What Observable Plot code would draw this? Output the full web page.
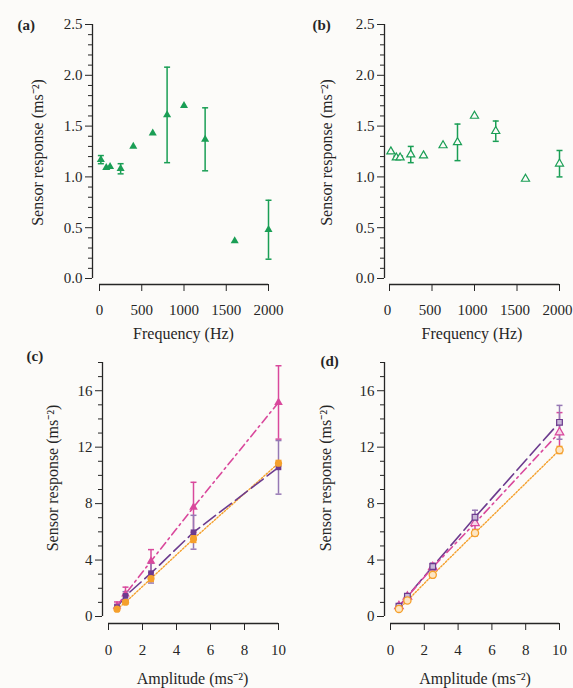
<!DOCTYPE html>
<html><head><meta charset="utf-8">
<script src="https://cdn.jsdelivr.net/npm/d3@7"></script>
<script src="https://cdn.jsdelivr.net/npm/@observablehq/plot@0.6"></script>
<style>
html,body{margin:0;padding:0;background:#fcfbf9;}
#fig{position:relative;width:573px;height:688px;overflow:hidden;background:#fcfbf9;font-family:"Liberation Serif",serif;}
#fig svg{position:absolute;}
</style></head><body><div id="fig"></div>
<script>
// ---- data ----
const frequencies = [16, 80, 125, 250, 400, 630, 800, 1000, 1250, 1600, 2000];
const responseA = [1.17, 1.09, 1.10, 1.08, 1.30, 1.43, 1.61, 1.70, 1.37, 0.37, 0.48];
const errorA    = [0.04, 0, 0, 0.05, 0, 0, 0.47, 0, 0.31, 0, 0.29];
const responseB = [1.25, 1.19, 1.19, 1.22, 1.21, 1.31, 1.34, 1.60, 1.45, 0.98, 1.13];
const errorB    = [0, 0.015, 0.015, 0.08, 0, 0, 0.18, 0, 0.10, 0, 0.13];

const amplitudes = [0.5, 1, 2.5, 5, 10];
const orangeC = [0.52, 1.01, 2.69, 5.50, 10.86];
const orangeErrC = [0.10, 0.12, 0.20, 0.25, 0.20];
const purpleC = [0.66, 1.46, 3.07, 5.97, 10.57];
const purpleErrC = [0.20, 0.30, 0.70, 1.20, 1.90];
const pinkC = [0.73, 1.60, 3.92, 7.74, 15.17];
const pinkErrC = [0.30, 0.48, 0.82, 1.77, 2.60];

const orangeD = [0.54, 1.13, 2.95, 5.92, 11.80];
const orangeErrD = [0.08, 0.10, 0.15, 0.20, 0.25];
const purpleD = [0.73, 1.44, 3.54, 7.03, 13.76];
const purpleErrD = [0.10, 0.15, 0.25, 0.50, 1.20];
const pinkD = [0.73, 1.40, 3.49, 6.62, 13.05];
const pinkErrD = [0.10, 0.15, 0.20, 0.45, 1.40];

const freqTicks = [0, 500, 1000, 1500, 2000];
const respTicks = [0, 0.5, 1.0, 1.5, 2.0, 2.5];
const ampTicks = [0, 2, 4, 6, 8, 10];
const sensTicks = [0, 4, 8, 12, 16];

const freqLabel = "Frequency (Hz)";
const ampLabel = "Amplitude (ms⁻²)";
const yLabelText = "Sensor response (ms⁻²)";

// ---- styles ----
const ink = "#262626";
const green = "#1a9e55";
const orange = "#f5a02c";
const purple = "#6c3b8e";
const purpleErr = "#9678b4";
const pink = "#d9489c";
const font = "Liberation Serif";

const capSymbol = {draw(ctx, size) { const w = Math.sqrt(size / Math.PI); ctx.moveTo(-w, 0); ctx.lineTo(w, 0); }};

function errorBars(rows, color, xKey) {
  const r = rows.filter(d => d.e > 0);
  return [
    Plot.ruleX(r, {x: xKey, y1: d => d.v - d.e, y2: d => d.v + d.e, stroke: color, strokeWidth: 1.5}),
    Plot.dot(r, {x: xKey, y: d => d.v - d.e, symbol: capSymbol, r: 3, fill: "none", stroke: color, strokeWidth: 1.5}),
    Plot.dot(r, {x: xKey, y: d => d.v + d.e, symbol: capSymbol, r: 3, fill: "none", stroke: color, strokeWidth: 1.5})
  ];
}

function panel(o) {
  const marks = [
    Plot.ruleX([o.xDomain[0]], {y1: o.yDomain[0], y2: o.yDomain[1], dx: -o.insetLeft, stroke: ink, strokeWidth: 1.3}),
    Plot.ruleY([o.yDomain[0]], {x1: o.xDomain[0], x2: o.xDomain[1], dy: o.insetBottom, stroke: ink, strokeWidth: 1.3}),
    Plot.axisY({ticks: o.yMinor, tickSize: 4, fill: "none", stroke: ink, label: null}),
    Plot.axisY({ticks: o.yTicks, tickSize: 7, tickPadding: 3, tickFormat: o.yFormat, stroke: ink, fill: ink, label: null, fontFamily: font}),
    Plot.axisX({ticks: o.xTicks, tickSize: 7, fill: "none", stroke: ink, label: null}),
    Plot.axisX({ticks: o.xTicks, tickSize: 7, tickPadding: o.xPad, tickFormat: d => String(d), stroke: "none", fill: ink, label: null, dx: o.xTickDx || 0, fontFamily: font}),
    ...o.marks,
    Plot.text([o.yLabel], {text: d => d, frameAnchor: "left", rotate: -90, textAnchor: "middle", dx: o.yLabelDx, dy: o.yLabelDy, fontSize: 16, fill: ink, fontFamily: font}),
    Plot.text([o.xLabel], {text: d => d, frameAnchor: "bottom", textAnchor: "middle", dx: o.xLabelDx, dy: o.xLabelDy, fontSize: 16, fill: ink, lineAnchor: "middle", fontFamily: font}),
    Plot.text([o.letter], {text: d => d, frameAnchor: "top-left", dx: o.letterDx, dy: o.letterDy, fontSize: 15, fontWeight: "bold", textAnchor: "start", lineAnchor: "middle", fill: ink, fontFamily: font})
  ];
  const svg = Plot.plot({
    width: o.width, height: o.height,
    marginLeft: o.marginLeft, marginRight: o.marginRight, marginTop: o.marginTop, marginBottom: o.marginBottom,
    insetLeft: o.insetLeft, insetRight: 0, insetTop: 0, insetBottom: o.insetBottom,
    x: {domain: o.xDomain},
    y: {domain: o.yDomain},
    style: {fontSize: "15px", color: ink, background: "transparent", overflow: "visible"},
    marks
  });
  svg.setAttribute("font-family", font);
  svg.style.fontFamily = font;
  svg.querySelectorAll("text, tspan").forEach(t => { t.setAttribute("font-family", font); t.style.fontFamily = font; });
  svg.style.left = o.left + "px";
  svg.style.top = o.top + "px";
  document.getElementById("fig").appendChild(svg);
}

const rowsA = frequencies.map((f, i) => ({f, v: responseA[i], e: errorA[i]}));
const rowsB = frequencies.map((f, i) => ({f, v: responseB[i], e: errorB[i]}));
const mk = (vals, errs) => amplitudes.map((a, i) => ({a, v: vals[i], e: errs[i]}));
const oC = mk(orangeC, orangeErrC), uC = mk(purpleC, purpleErrC), pC = mk(pinkC, pinkErrC);
const oD = mk(orangeD, orangeErrD), uD = mk(purpleD, purpleErrD), pD = mk(pinkD, pinkErrD);

const respMinor = d3.range(0, 26).map(i => i / 10).filter(v => Math.round(v * 10) % 5 !== 0);
const sensMinor = d3.range(1, 19).filter(v => v % 4 !== 0);

const common1 = {xDomain: [0, 2000], yDomain: [0, 2.5], xTicks: freqTicks, yTicks: respTicks, yMinor: respMinor,
  yFormat: d => d.toFixed(1), xPad: 13, height: 340, top: 0, marginTop: 24, insetBottom: 6, marginBottom: 56,
  xLabel: freqLabel, yLabel: yLabelText, xLabelDy: 49, yLabelDy: -2};

panel({...common1, left: 0, width: 286, marginLeft: 92, insetLeft: 7, marginRight: 18,
  yLabelDx: -55, xLabelDx: 3, letter: "(a)", letterDx: -75, letterDy: 1,
  marks: [
    ...errorBars(rowsA, green, "f"),
    Plot.dot(rowsA, {x: "f", y: "v", symbol: "triangle", r: 3, fill: green})
  ]});

panel({...common1, left: 286, width: 287, marginLeft: 98, insetLeft: 5, marginRight: 14,
  yLabelDx: -58, xLabelDx: 0, letter: "(b)", letterDx: -72, letterDy: 1, xTickDx: -2,
  marks: [
    ...errorBars(rowsB, green, "f"),
    Plot.dot(rowsB, {x: "f", y: "v", symbol: "triangle", r: 3, fill: "#fcfbf9", stroke: green, strokeWidth: 1.2})
  ]});

const common2 = {xDomain: [0, 10], yDomain: [0, 18], xTicks: ampTicks, yTicks: sensTicks, yMinor: sensMinor,
  yFormat: d => String(d), xPad: 14, height: 348, top: 340, marginTop: 22, insetBottom: 7, marginBottom: 65,
  xLabel: ampLabel, yLabel: yLabelText, xLabelDy: 55, yLabelDy: -15};

function lineSet(o, u, p, open) {
  return [
    Plot.line(o, {x: "a", y: "v", stroke: orange, strokeWidth: 1.4, strokeDasharray: "1.5,1.8"}),
    Plot.line(u, {x: "a", y: "v", stroke: purple, strokeWidth: 1.6, strokeDasharray: "15,5"}),
    Plot.line(p, {x: "a", y: "v", stroke: pink, strokeWidth: 1.6, strokeDasharray: "8,4,2,4"}),
    ...errorBars(p, pink, "a"),
    ...errorBars(u, purpleErr, "a"),
    ...errorBars(o, orange, "a"),
    open
      ? Plot.dot(p, {x: "a", y: "v", symbol: "triangle", r: 3.2, fill: "#f6d6e8", stroke: pink, strokeWidth: 1.2})
      : Plot.dot(p, {x: "a", y: "v", symbol: "triangle", r: 3.2, fill: pink}),
    open
      ? Plot.dot(u, {x: "a", y: "v", symbol: "square", r: 3.2, fill: "#c9b8d8", stroke: purple, strokeWidth: 1.2})
      : Plot.dot(u, {x: "a", y: "v", symbol: "square", r: 3.2, fill: purple}),
    open
      ? Plot.dot(o, {x: "a", y: "v", symbol: "circle", r: 3.6, fill: "#fde6c4", stroke: orange, strokeWidth: 1.3})
      : Plot.dot(o, {x: "a", y: "v", symbol: "circle", r: 3.6, fill: orange})
  ];
}

panel({...common2, left: 0, width: 286, marginLeft: 102, insetLeft: 6, marginRight: 8,
  yLabelDx: -50, xLabelDx: 2, letter: "(c)", letterDx: -76, letterDy: -6,
  marks: lineSet(oC, uC, pC, false)});

panel({...common2, left: 286, width: 287, marginLeft: 98, insetLeft: 6, marginRight: 14,
  yLabelDx: -59, xLabelDx: 3, letter: "(d)", letterDx: -64, letterDy: -1,
  marks: lineSet(oD, uD, pD, true)});
</script>
</body></html>
